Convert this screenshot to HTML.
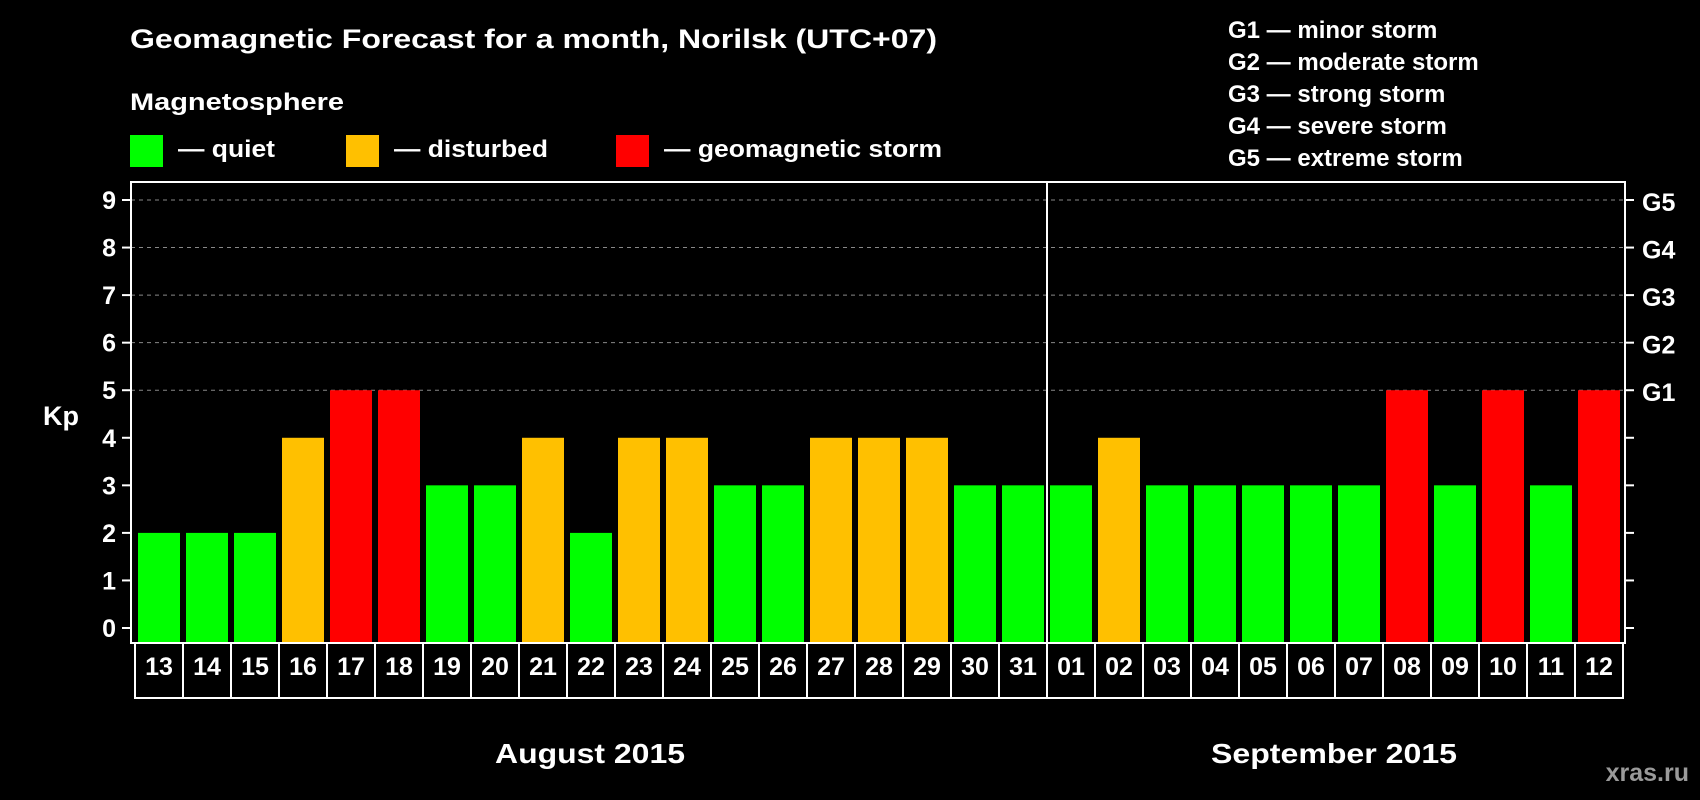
<!DOCTYPE html>
<html><head><meta charset="utf-8"><style>
html,body{margin:0;padding:0;background:#000;}
svg{display:block;font-family:"Liberation Sans",Arial,sans-serif;font-weight:bold;}
</style></head><body>
<svg id="chart" width="1700" height="800" viewBox="0 0 1700 800" xmlns="http://www.w3.org/2000/svg">
<rect width="1700" height="800" fill="#000"/>
<text x="130" y="48" fill="#fff" font-size="27" textLength="807" lengthAdjust="spacingAndGlyphs">Geomagnetic Forecast for a month, Norilsk (UTC+07)</text>
<text x="130" y="110" fill="#fff" font-size="24" textLength="214" lengthAdjust="spacingAndGlyphs">Magnetosphere</text>
<g>
<rect x="130" y="135" width="33" height="32" fill="#00ff00"/>
<text x="178" y="157" fill="#fff" font-size="24" textLength="97" lengthAdjust="spacingAndGlyphs">— quiet</text></g>
<g>
<rect x="346" y="135" width="33" height="32" fill="#ffc000"/>
<text x="394" y="157" fill="#fff" font-size="24" textLength="154" lengthAdjust="spacingAndGlyphs">— disturbed</text></g>
<g>
<rect x="616" y="135" width="33" height="32" fill="#ff0000"/>
<text x="664" y="157" fill="#fff" font-size="24" textLength="278" lengthAdjust="spacingAndGlyphs">— geomagnetic storm</text></g>
<g fill="#fff" font-size="24">
<text x="1228" y="38">G1 — minor storm</text>
<text x="1228" y="70">G2 — moderate storm</text>
<text x="1228" y="102">G3 — strong storm</text>
<text x="1228" y="134">G4 — severe storm</text>
<text x="1228" y="166">G5 — extreme storm</text>
</g>
<text x="43" y="425" fill="#fff" font-size="27">Kp</text>
<g id="grid"></g>
<g id="bars"></g>
<g id="axes"></g>
<text x="495" y="763" fill="#fff" font-size="28" textLength="190" lengthAdjust="spacingAndGlyphs">August 2015</text>
<text x="1211" y="763" fill="#fff" font-size="28" textLength="246" lengthAdjust="spacingAndGlyphs">September 2015</text>
<text x="1689" y="781" fill="#9a9a9a" font-size="25" text-anchor="end">xras.ru</text>
</svg>
<script>
const days = ["13","14","15","16","17","18","19","20","21","22","23","24","25","26","27","28","29","30","31","01","02","03","04","05","06","07","08","09","10","11","12"];
const kpValues = [2,2,2,4,5,5,3,3,4,2,4,4,3,3,4,4,4,3,3,3,4,3,3,3,3,3,5,3,5,3,5];
const yTicks = [0,1,2,3,4,5,6,7,8,9];
const gLabels = ["G1","G2","G3","G4","G5"];
const gLevels = [5,6,7,8,9];
const monthBreakIndex = 19;

const NS = "http://www.w3.org/2000/svg";
const plotLeft = 131, plotRight = 1625, plotTop = 182, plotBottom = 643;
const slot0 = 135, slotW = 48;
function yScale(v){ return 628 - v * (428/9); }
function xSlot(i){ return slot0 + i * slotW; }
function color(v){ return v >= 5 ? "#ff0000" : (v >= 4 ? "#ffc000" : "#00ff00"); }
function mk(tag, attrs, parent){ const e = document.createElementNS(NS, tag); for (const k in attrs) e.setAttribute(k, attrs[k]); parent.appendChild(e); return e; }

const gridG = document.getElementById("grid");
const barsG = document.getElementById("bars");
const axesG = document.getElementById("axes");

gLevels.forEach((lv, i) => {
  const y = yScale(lv);
  const l = mk("line", {x1:plotLeft, x2:plotRight, y1:y, y2:y, stroke:"#888", "stroke-width":1, "stroke-dasharray":"4,4"}, gridG);
  
  
  const t = mk("text", {x:1642, y:y+11, fill:"#fff", "font-size":25}, axesG);
  t.textContent = gLabels[i];
  
  
});

kpValues.forEach((v, i) => {
  const y = yScale(v);
  const r = mk("rect", {x:xSlot(i)+3, y:y, width:42, height:plotBottom - y, fill:color(v)}, barsG);
  
  
});

const fr = mk("rect", {x:plotLeft, y:plotTop, width:plotRight-plotLeft, height:plotBottom-plotTop, fill:"none", stroke:"#fff", "stroke-width":2}, axesG);


const sep = mk("line", {x1:xSlot(monthBreakIndex), x2:xSlot(monthBreakIndex), y1:plotTop, y2:plotBottom, stroke:"#fff", "stroke-width":2}, axesG);



yTicks.forEach(v => {
  const y = yScale(v);
  const tl = mk("line", {x1:122, x2:plotLeft, y1:y, y2:y, stroke:"#fff", "stroke-width":2}, axesG);
  
  
  const tr = mk("line", {x1:plotRight, x2:plotRight+9, y1:y, y2:y, stroke:"#fff", "stroke-width":2}, axesG);
  
  
  const t = mk("text", {x:116, y:y+9, fill:"#fff", "font-size":25, "text-anchor":"end"}, axesG);
  t.textContent = v;
  
  
});

days.forEach((d, i) => {
  const b = mk("rect", {x:xSlot(i), y:plotBottom, width:slotW, height:55, fill:"none", stroke:"#fff", "stroke-width":2}, axesG);
  
  
  const t = mk("text", {x:xSlot(i)+slotW/2, y:675, fill:"#fff", "font-size":25, "text-anchor":"middle"}, axesG);
  t.textContent = d;
  
  
});
</script>
</body></html>
